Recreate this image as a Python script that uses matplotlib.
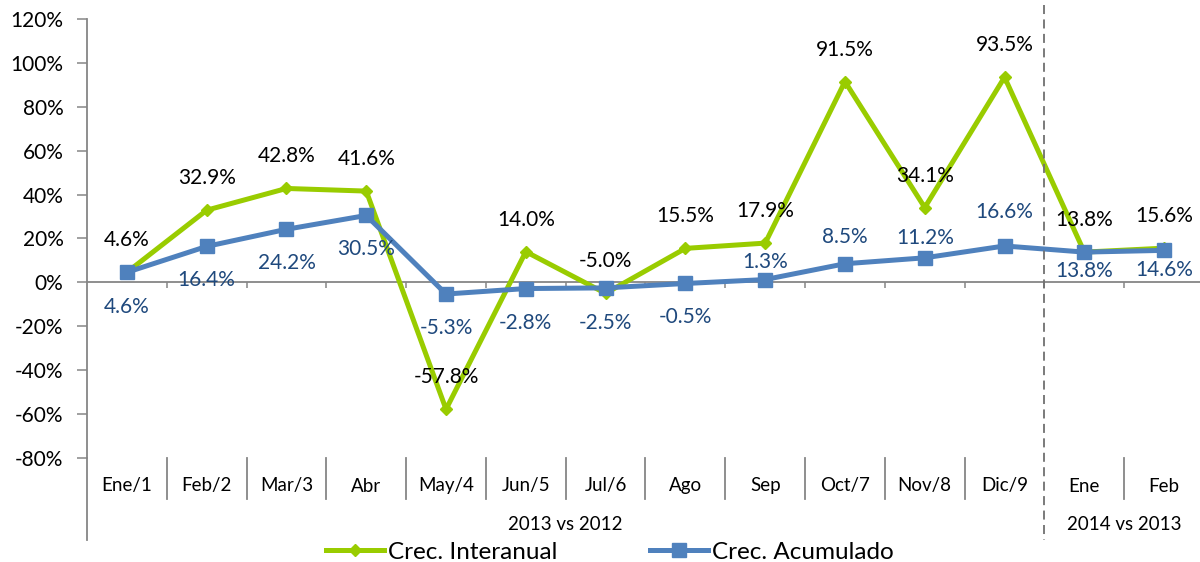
import matplotlib
matplotlib.use("Agg")
import matplotlib.pyplot as plt
from matplotlib import transforms
from matplotlib.lines import Line2D
from matplotlib.ticker import FuncFormatter

plt.rcParams['font.family'] = ['Lato', 'DejaVu Sans']

# --- datos ---
categorias = ["Ene/1", "Feb/2", "Mar/3", "Abr", "May/4", "Jun/5", "Jul/6",
              "Ago", "Sep", "Oct/7", "Nov/8", "Dic/9", "Ene", "Feb"]
grupos = ["2013 vs 2012", "2014 vs 2013"]
grupo_tamanos = [12, 2]
interanual = [4.6, 32.9, 42.8, 41.6, -57.8, 14.0, -5.0, 15.5, 17.9, 91.5, 34.1, 93.5, 13.8, 15.6]
acumulado = [4.6, 16.4, 24.2, 30.5, -5.3, -2.8, -2.5, -0.5, 1.3, 8.5, 11.2, 16.6, 13.8, 14.6]

# desplazamiento vertical de las etiquetas (pixeles)
off_inter = [32] * 14
off_acum = [-35, -34, -34, -34, -34, -34, -35, -34, 18, 27, 20, 34, -19, -20]

VERDE = "#99CC00"
AZUL = "#4F81BD"
AZUL_TXT = "#1F497D"
GRIS = "#868686"

W, H = 1200, 562
fig = plt.figure(figsize=(W / 100, H / 100), dpi=100)
ax = fig.add_axes([87 / W, 1 - 458 / H, 1117 / W, (458 - 19) / H])

x = list(range(len(categorias)))
ax.plot(x, interanual, color=VERDE, lw=3.6, marker="D", ms=6, zorder=3,
        label="Crec. Interanual")
ax.plot(x, acumulado, color=AZUL, lw=3.6, marker="s", ms=10, zorder=4,
        label="Crec. Acumulado")

for i, v in enumerate(interanual):
    ax.annotate(f"{v:.1f}%", (i, v), xytext=(0, off_inter[i]), textcoords="offset pixels",
                ha="center", va="center", fontsize=15, color="black", zorder=5)
for i, v in enumerate(acumulado):
    ax.annotate(f"{v:.1f}%", (i, v), xytext=(0, off_acum[i]), textcoords="offset pixels",
                ha="center", va="center", fontsize=15, color=AZUL_TXT, zorder=5)

ax.set_xlim(-0.5, len(categorias) - 0.5)
ax.set_ylim(-80, 120)
ax.set_yticks(range(-80, 121, 20))
ax.yaxis.set_major_formatter(FuncFormatter(lambda v, p: f"{v:.0f}%"))
ax.tick_params(axis="y", length=7, width=1.1, color=GRIS, labelsize=15, pad=10)

for s in ["top", "right"]:
    ax.spines[s].set_visible(False)
ax.spines["left"].set_color(GRIS)
ax.spines["left"].set_linewidth(1.3)
ax.spines["bottom"].set_position(("data", 0))
ax.spines["bottom"].set_color(GRIS)
ax.spines["bottom"].set_linewidth(1.3)
ax.set_xticks([k + 0.5 for k in range(len(categorias) - 1)])
ax.set_xticklabels([])
ax.tick_params(axis="x", direction="out", length=4, width=1.1, color=GRIS)

# --- ejes de categorias bajo el grafico ---
tr = transforms.blended_transform_factory(ax.transData, fig.transFigure)
fy = lambda py: 1 - py / H

for i, c in enumerate(categorias):
    ax.text(i, fy(486), c, transform=tr, ha="center", va="center", fontsize=13.5,
            clip_on=False)

inicio = 0
for g, n in zip(grupos, grupo_tamanos):
    ax.text(inicio - 0.5 + n / 2, fy(525), g, transform=tr, ha="center", va="center",
            fontsize=13.5, clip_on=False)
    inicio += n

for k in range(1, len(categorias)):
    if k == grupo_tamanos[0]:
        continue
    fig.add_artist(Line2D([k - 0.5, k - 0.5], [fy(458), fy(499)], transform=tr,
                          color=GRIS, lw=1.3))

# eje izquierdo extendido y separador de grupos discontinuo
fig.add_artist(Line2D([-0.5, -0.5], [fy(458), fy(540)], transform=tr, color=GRIS, lw=1.3))
sep = grupo_tamanos[0] - 0.5
fig.add_artist(Line2D([sep, sep], [fy(5), fy(540)], transform=tr, color="#707070",
                      lw=1.3, ls=(0, (5, 3))))

fig.legend(loc="center", bbox_to_anchor=(0.508, fy(552)), ncol=2, frameon=False,
           fontsize=17.5, handlelength=2.4, handletextpad=0.15, columnspacing=3.8,
           borderaxespad=0)

fig.savefig("out.png", dpi=100)
